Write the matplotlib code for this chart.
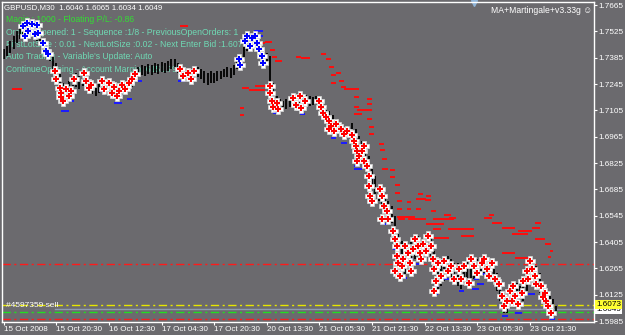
import matplotlib
matplotlib.use("Agg")
import matplotlib.pyplot as plt
import matplotlib.transforms as mtransforms

# --- price data: hourly bars, x = M30 bar number
bar_time = list(range(0, 338, 2))
highs = [1.7431, 1.7447, 1.7473, 1.7500, 1.7526, 1.7553, 1.7569, 1.7580, 1.7569, 1.7558,
         1.7537, 1.7516, 1.7484, 1.7463, 1.7431, 1.7393, 1.7356, 1.7303, 1.7250, 1.7234,
         1.7260, 1.7287, 1.7303, 1.7287, 1.7303, 1.7303, 1.7271, 1.7260, 1.7250, 1.7260,
         1.7271, 1.7260, 1.7250, 1.7239, 1.7234, 1.7239, 1.7250, 1.7260, 1.7271, 1.7292,
         1.7314, 1.7335, 1.7345, 1.7340, 1.7351, 1.7345, 1.7356, 1.7351, 1.7361, 1.7356,
         1.7367, 1.7377, 1.7377, 1.7356, 1.7335, 1.7324, 1.7314, 1.7324, 1.7324, 1.7335,
         1.7324, 1.7314, 1.7303, 1.7314, 1.7303, 1.7314, 1.7314, 1.7324, 1.7335, 1.7330,
         1.7345, 1.7377, 1.7393, 1.7447, 1.7484, 1.7494, 1.7505, 1.7500, 1.7473, 1.7420,
         1.7409, 1.7393, 1.7250, 1.7181, 1.7165, 1.7154, 1.7165, 1.7165, 1.7181, 1.7191,
         1.7181, 1.7175, 1.7186, 1.7181, 1.7175, 1.7181, 1.7175, 1.7154, 1.7122, 1.7101,
         1.7079, 1.7058, 1.7037, 1.7026, 1.7016, 1.7021, 1.7037, 1.7005, 1.6968, 1.6941,
         1.6915, 1.6861, 1.6808, 1.6755, 1.6702, 1.6675, 1.6649, 1.6622, 1.6595, 1.6542,
         1.6473, 1.6410, 1.6356, 1.6383, 1.6410, 1.6436, 1.6436, 1.6420, 1.6410, 1.6452,
         1.6436, 1.6356, 1.6276, 1.6292, 1.6313, 1.6329, 1.6313, 1.6292, 1.6292, 1.6260,
         1.6292, 1.6303, 1.6292, 1.6313, 1.6313, 1.6319, 1.6329, 1.6313, 1.6292, 1.6276,
         1.6239, 1.6186, 1.6133, 1.6143, 1.6170, 1.6186, 1.6186, 1.6170, 1.6196, 1.6223,
         1.6292, 1.6313, 1.6276, 1.6239, 1.6196, 1.6170, 1.6133, 1.6101, 1.6065]
lows = [1.7377, 1.7393, 1.7409, 1.7431, 1.7463, 1.7484, 1.7505, 1.7516, 1.7505, 1.7494,
        1.7473, 1.7447, 1.7420, 1.7393, 1.7367, 1.7314, 1.7260, 1.7207, 1.7154, 1.7165,
        1.7181, 1.7218, 1.7229, 1.7218, 1.7234, 1.7218, 1.7197, 1.7191, 1.7181, 1.7197,
        1.7207, 1.7186, 1.7181, 1.7170, 1.7165, 1.7175, 1.7181, 1.7197, 1.7207, 1.7229,
        1.7260, 1.7282, 1.7292, 1.7287, 1.7298, 1.7292, 1.7303, 1.7298, 1.7308, 1.7303,
        1.7314, 1.7324, 1.7335, 1.7303, 1.7282, 1.7271, 1.7271, 1.7282, 1.7271, 1.7282,
        1.7271, 1.7250, 1.7239, 1.7250, 1.7250, 1.7260, 1.7271, 1.7282, 1.7282, 1.7276,
        1.7292, 1.7324, 1.7335, 1.7377, 1.7420, 1.7441, 1.7452, 1.7447, 1.7393, 1.7356,
        1.7340, 1.7234, 1.7154, 1.7111, 1.7101, 1.7101, 1.7111, 1.7122, 1.7127, 1.7133,
        1.7122, 1.7122, 1.7133, 1.7127, 1.7133, 1.7138, 1.7133, 1.7090, 1.7069, 1.7048,
        1.7016, 1.6994, 1.6984, 1.6973, 1.6973, 1.6978, 1.6984, 1.6941, 1.6888, 1.6861,
        1.6824, 1.6771, 1.6702, 1.6649, 1.6622, 1.6595, 1.6558, 1.6526, 1.6505, 1.6436,
        1.6356, 1.6260, 1.6223, 1.6250, 1.6292, 1.6313, 1.6329, 1.6313, 1.6303, 1.6345,
        1.6329, 1.6250, 1.6133, 1.6170, 1.6196, 1.6223, 1.6207, 1.6186, 1.6170, 1.6154,
        1.6186, 1.6196, 1.6186, 1.6207, 1.6218, 1.6223, 1.6239, 1.6223, 1.6196, 1.6175,
        1.6143, 1.6090, 1.6026, 1.6026, 1.6063, 1.6079, 1.6090, 1.6079, 1.6090, 1.6117,
        1.6186, 1.6207, 1.6170, 1.6133, 1.6101, 1.6063, 1.6037, 1.6015, 1.6034]

# --- sell arrows (bar, price)
sell_bar = [31, 32, 34, 35, 36, 35, 38, 41, 43, 40, 49, 50, 52, 53, 60, 61, 64, 66, 67, 69,
            70, 72, 74, 76, 78, 80, 107, 109, 112, 114, 116, 162, 162, 163, 164, 166, 167,
            176, 178, 180, 183, 181, 192, 193, 194, 196, 198, 199, 201, 198, 202, 205, 207,
            209, 212, 213, 214, 215, 216, 215, 218, 219, 219, 221, 222, 222, 223, 224, 229,
            230, 231, 233, 234, 230, 237, 238, 239, 239, 240, 238, 241, 242, 243, 244, 246,
            247, 248, 249, 250, 252, 253, 254, 255, 257, 258, 260, 261, 262, 263, 262, 264,
            266, 268, 270, 272, 274, 277, 278, 280, 283, 284, 286, 288, 291, 292, 294, 295,
            297, 299, 301, 303, 304, 306, 308, 309, 310, 311, 313, 315, 316, 318, 320, 321,
            319, 323, 324, 327, 329, 330, 331, 333, 328]
sell_price = [1.7314, 1.7271, 1.7223, 1.7197, 1.7154, 1.7175, 1.7218, 1.7207, 1.7271, 1.7181,
              1.7303, 1.7260, 1.7223, 1.7239, 1.7260, 1.7218, 1.7250, 1.7197, 1.7229, 1.7181,
              1.7207, 1.7239, 1.7218, 1.7250, 1.7271, 1.7298, 1.7324, 1.7287, 1.7303, 1.7271,
              1.7314, 1.7234, 1.7197, 1.7154, 1.7122, 1.7143, 1.7111, 1.7170, 1.7133, 1.7181,
              1.7154, 1.7117, 1.7154, 1.7122, 1.7090, 1.7069, 1.7048, 1.7021, 1.6994, 1.7005,
              1.7032, 1.7005, 1.6978, 1.6994, 1.6973, 1.6941, 1.6915, 1.6888, 1.6861, 1.6835,
              1.6888, 1.6835, 1.6915, 1.6808, 1.6755, 1.6702, 1.6649, 1.6622, 1.6686, 1.6649,
              1.6595, 1.6569, 1.6526, 1.6526, 1.6463, 1.6420, 1.6383, 1.6329, 1.6292, 1.6250,
              1.6223, 1.6276, 1.6313, 1.6383, 1.6345, 1.6292, 1.6250, 1.6367, 1.6420, 1.6383,
              1.6345, 1.6313, 1.6394, 1.6356, 1.6436, 1.6383, 1.6313, 1.6260, 1.6196, 1.6143,
              1.6292, 1.6223, 1.6303, 1.6250, 1.6276, 1.6207, 1.6260, 1.6207, 1.6276, 1.6186,
              1.6313, 1.6276, 1.6239, 1.6292, 1.6313, 1.6260, 1.6223, 1.6292, 1.6207, 1.6180,
              1.6117, 1.6063, 1.6090, 1.6143, 1.6090, 1.6170, 1.6117, 1.6074, 1.6133, 1.6196,
              1.6250, 1.6303, 1.6260, 1.6207, 1.6223, 1.6180, 1.6170, 1.6133, 1.6090, 1.6063,
              1.6026, 1.6111]

# --- buy arrows (bar, price)
buy_bar = [12, 14, 17, 20, 15, 19, 21, 24, 26, 27, 13,
           143, 144, 147, 148, 151, 153, 154, 150, 155, 157, 158]
buy_price = [1.7553, 1.7569, 1.7564, 1.7558, 1.7526, 1.7510, 1.7516, 1.7463, 1.7420, 1.7404, 1.7500,
             1.7377, 1.7345, 1.7473, 1.7500, 1.7489, 1.7500, 1.7463, 1.7447, 1.7431, 1.7393, 1.7356]

# --- take profit dashes (red): start bar, end bar, price
tp_start = [5, 107, 145, 149, 155, 159, 165, 162, 163, 178, 144, 144, 153, 181, 193, 196, 198,
            202, 199, 204, 199, 205, 207, 213, 221, 213, 221, 215, 213, 221, 222, 222, 228, 229,
            230, 230, 235, 235, 238, 238, 239, 245, 252, 251, 256, 257, 260, 245, 251, 239, 240,
            246, 261, 268, 271, 292, 295, 239, 248, 257, 264, 270, 261, 297, 303, 309, 313, 323,
            321, 323, 329, 303, 311, 331, 332, 280, 261, 278]
tp_end = [11, 112, 149, 159, 159, 163, 169, 165, 166, 181, 146, 146, 161, 186, 196, 199, 201,
          205, 202, 207, 202, 208, 216, 216, 224, 216, 224, 224, 218, 224, 225, 225, 231, 232,
          233, 234, 238, 238, 241, 241, 242, 248, 255, 257, 260, 260, 263, 248, 254, 242, 244,
          253, 264, 272, 275, 297, 298, 250, 257, 268, 274, 283, 266, 303, 311, 319, 321, 327,
          326, 329, 333, 311, 321, 333, 334, 286, 271, 286]
tp_price = [1.7218, 1.7553, 1.7223, 1.7212, 1.7463, 1.7468, 1.7367, 1.7425, 1.7388, 1.7388,
            1.7117, 1.7079, 1.7234, 1.7383, 1.7404, 1.7377, 1.7335, 1.7303, 1.7292, 1.7260,
            1.7250, 1.7229, 1.7218, 1.7175, 1.7165, 1.7122, 1.7138, 1.7106, 1.7085, 1.7058,
            1.7016, 1.6978, 1.6925, 1.6893, 1.6845, 1.6792, 1.6787, 1.6750, 1.6707, 1.6665,
            1.6622, 1.6617, 1.6659, 1.6633, 1.6627, 1.6649, 1.6569, 1.6580, 1.6580, 1.6580,
            1.6526, 1.6526, 1.6526, 1.6547, 1.6531, 1.6531, 1.6547, 1.6537, 1.6526, 1.6500,
            1.6526, 1.6473, 1.6473, 1.6505, 1.6478, 1.6447, 1.6463, 1.6505, 1.6478, 1.6420,
            1.6394, 1.6345, 1.6319, 1.6324, 1.6356, 1.6473, 1.6425, 1.6436]

# --- stop dashes (blue): start bar, end bar, price
sl_start = [36, 40, 49, 75, 58, 82, 106, 113, 183, 164, 152, 155, 35, 67, 180, 199, 205, 213,
            213, 216, 222, 221, 230, 237, 239, 241, 247, 245, 250, 251, 262, 261, 268, 274, 285,
            286, 291, 277, 288, 303, 311, 319, 330, 332, 304, 309]
sl_end = [40, 43, 52, 78, 61, 84, 110, 116, 186, 167, 158, 158, 40, 72, 183, 202, 209, 216,
          218, 219, 226, 225, 234, 241, 242, 245, 250, 249, 253, 254, 265, 264, 271, 277, 289,
          289, 294, 280, 292, 307, 315, 323, 332, 335, 307, 313]
sl_price = [1.7223, 1.7154, 1.7244, 1.7165, 1.7207, 1.7260, 1.7260, 1.7276, 1.7154, 1.7090,
            1.7526, 1.7500, 1.7101, 1.7143, 1.7085, 1.6957, 1.6930, 1.6808, 1.6792, 1.6904,
            1.6611, 1.6744, 1.6500, 1.6367, 1.6250, 1.6212, 1.6239, 1.6313, 1.6340, 1.6287,
            1.6170, 1.6127, 1.6207, 1.6212, 1.6154, 1.6207, 1.6234, 1.6143, 1.6180, 1.6010,
            1.6026, 1.6127, 1.6074, 1.5994, 1.6063, 1.6101]

# --- horizontal levels
level_prices = [1.6286, 1.6073, 1.6035, 1.5996]
level_colors = ["#ff1a1a", "#e6e600", "#22dd22", "#ff1a1a"]
bid_price = 1.6049

# --- axis labels
y_ticks = [1.7665, 1.7525, 1.7385, 1.7245, 1.7105, 1.6965, 1.6825, 1.6685,
           1.6545, 1.6405, 1.6265, 1.6125, 1.5985]
x_ticks = [0, 32, 64, 96, 128, 160, 192, 224, 256, 288, 320]
x_labels = ["15 Oct 2008", "15 Oct 20:30", "16 Oct 12:30", "17 Oct 04:30", "17 Oct 20:30",
            "20 Oct 13:30", "21 Oct 05:30", "21 Oct 21:30", "22 Oct 13:30", "23 Oct 05:30",
            "23 Oct 21:30"]

info_lines = ["Magic : 1000 - Floating P/L: -0.86",
              "Orders Opened: 1 - Sequence :1/8 - PreviousOpenOrders: 1",
              "FirstLotSize : 0.01 - NextLotSize :0.02 - Next Enter Bid :1.6073",
              "Auto Trading - Variable's Update: Auto",
              "ContinueOpening - Account Margin: 6151.79"]
info_colors = ["#33dd33", "#6fd9b4", "#6fd9b4", "#6fd9b4", "#6fd9b4"]

bg = "#6b6a6e"
font = "Liberation Sans"

fig = plt.figure(figsize=(6.25, 3.35), dpi=100, facecolor=bg)
ax = fig.add_axes([2 / 625, 13 / 335, 592 / 625, 320 / 335], facecolor=bg)

# level lines
for p, c in zip(level_prices, level_colors):
    ax.axhline(p, color=c, lw=1.0, dashes=(6, 2.5, 1.5, 2.5), zorder=1)
ax.axhline(bid_price, xmin=0.09, color="#8d9bb0", lw=1.0, zorder=1)

# price bars
ax.vlines(bar_time, lows, highs, color="black", lw=1.3, zorder=2)

# take-profit and stop dashes
ax.hlines(tp_price, tp_start, tp_end, color="#ff0d0d", lw=1.4, zorder=3)
ax.hlines(sl_price, sl_start, sl_end, color="#1a1aff", lw=1.4, zorder=3)

# arrows: white outline, coloured cross
ax.plot(sell_bar, sell_price, ls="none", marker="P", ms=6.5, mfc="white", mec="#d8d8d8", mew=0.5, zorder=4)
ax.plot(sell_bar, sell_price, ls="none", marker="P", ms=4, mfc="#ff0000", mew=0, zorder=5)
ax.plot(buy_bar, buy_price, ls="none", marker="P", ms=6.5, mfc="white", mec="#d8d8d8", mew=0.5, zorder=4)
ax.plot(buy_bar, buy_price, ls="none", marker="P", ms=4, mfc="#0000ff", mew=0, zorder=5)

ax.set_xlim(-1, 359)
ax.set_ylim(1.5980, 1.7681)

for s in ax.spines.values():
    s.set_color("white")
    s.set_linewidth(1.0)

ax.yaxis.tick_right()
ax.set_yticks(y_ticks)
ax.set_yticklabels([f"{v:.4f}" for v in y_ticks])
ax.set_xticks(x_ticks)
ax.set_xticklabels(x_labels, ha="left")
ax.tick_params(colors="white", labelcolor="white", width=0.8, direction="out")
ax.tick_params(axis="y", labelsize=5.9, length=2.5, pad=1)
ax.tick_params(axis="x", labelsize=5.8, length=2.5, pad=0.5)
for lab in ax.get_xticklabels() + ax.get_yticklabels():
    lab.set_fontfamily(font)

# price labels on the right scale
trans = mtransforms.blended_transform_factory(ax.transAxes, ax.transData)
ax.text(1.004, bid_price - 0.0004, "1.6049", transform=trans, fontsize=5.9, family=font,
        color="black", va="center", ha="left", clip_on=False,
        bbox=dict(boxstyle="square,pad=0.12", fc="white", ec="none"), zorder=6)
ax.text(1.004, level_prices[1], "1.6073", transform=trans, fontsize=5.9, family=font,
        color="black", va="center", ha="left", clip_on=False,
        bbox=dict(boxstyle="square,pad=0.12", fc="#ffff33", ec="none"), zorder=7)

# chart texts
ax.text(0.004, 0.984, "GBPUSD,M30  1.6046 1.6065 1.6034 1.6049", transform=ax.transAxes,
        fontsize=5.7, family=font, color="white", va="center", ha="left", zorder=1)
for i, (line, c) in enumerate(zip(info_lines, info_colors)):
    ax.text(0.006, 0.944 - i * 0.0385, line, transform=ax.transAxes, fontsize=6.2, family=font,
            color=c, va="center", ha="left", zorder=1)
ax.text(0.997, 0.973, "MA+Martingale+v3.33g \u263a", transform=ax.transAxes, fontsize=6.2,
        family=["Liberation Sans", "DejaVu Sans"], color="white", va="center", ha="right")
ax.plot(0.798, 0.996, marker="v", ms=4, color="#8fb4d8", transform=ax.transAxes, clip_on=False)
ax.text(0.006, level_prices[1] - 0.0003, "#4597359 sell", transform=trans, fontsize=6,
        family=font, color="white", va="center", ha="left")

fig.savefig("out.png", dpi=100, facecolor=bg)
